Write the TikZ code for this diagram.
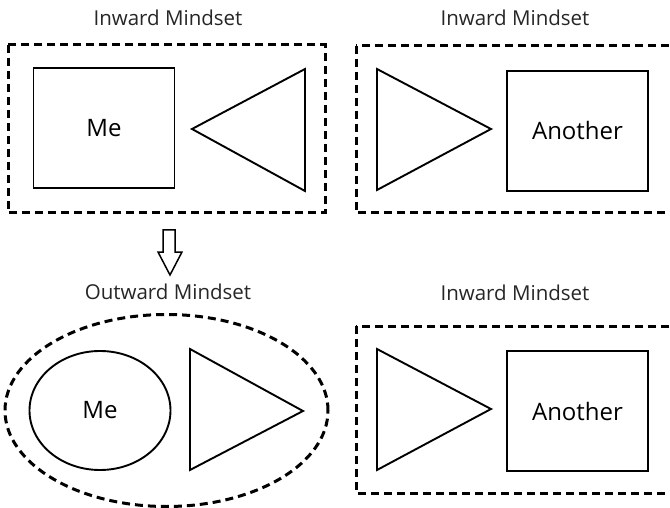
\documentclass[tikz,border=0pt]{standalone}
\usepackage{fontspec}
\setmainfont{Open Sans}
\usetikzlibrary{shapes.geometric,positioning}

\begin{document}
\begin{tikzpicture}[x=1pt,y=-1pt,
    frame/.style={line width=3pt, dash pattern=on 8pt off 5pt},
    party/.style={draw, line width=1.9pt, minimum width=141pt, minimum height=120pt,
      inner sep=0pt, font=\fontsize{24}{28}\selectfont},
    heading/.style={font=\fontsize{20.5}{24}\selectfont, text=black!85},
    wedge/.style={draw, line width=1.9pt, line join=miter}]
  \useasboundingbox (0,0) rectangle (670,508);

  % top row
  \node[heading] (titleA) at (168,18) {Inward Mindset};
  \node[heading] (titleB) at (515,18) {Inward Mindset};
  \draw[frame] (8,45) rectangle (325,213);
  \draw[frame] (356,46) rectangle (690,213);
  \node[party] (meA) at (104,128) {Me};
  \draw[wedge] (305,69) -- (192,129) -- (305,191) -- cycle;
  \draw[wedge] (377,69) -- (491,129) -- (377,190) -- cycle;
  \node[party] (otherA) at (577.5,131) {Another};

  % arrow down
  \draw[line width=1.5pt, line join=miter]
    (163,230) -- (175,230) -- (175,252) -- (182,252) -- (170,275)
    -- (158,252) -- (163,252) -- cycle;

  % bottom row
  \node[heading] (titleC) at (168,292) {Outward Mindset};
  \node[heading] (titleD) at (515,293) {Inward Mindset};
  \node[frame, draw, ellipse, minimum width=323pt, minimum height=192pt, inner sep=0pt]
    (scope) at (166.5,410.5) {};
  \node[party, ellipse, minimum height=119pt] (meB) at (100,410.5) {Me};
  \draw[wedge] (190,349) -- (303,411) -- (190,470) -- cycle;
  \draw[frame] (356,326) rectangle (690,493);
  \draw[wedge] (377,349) -- (491,409) -- (377,470) -- cycle;
  \node[party] (otherB) at (577.5,411) {Another};

\end{tikzpicture}
\end{document}
